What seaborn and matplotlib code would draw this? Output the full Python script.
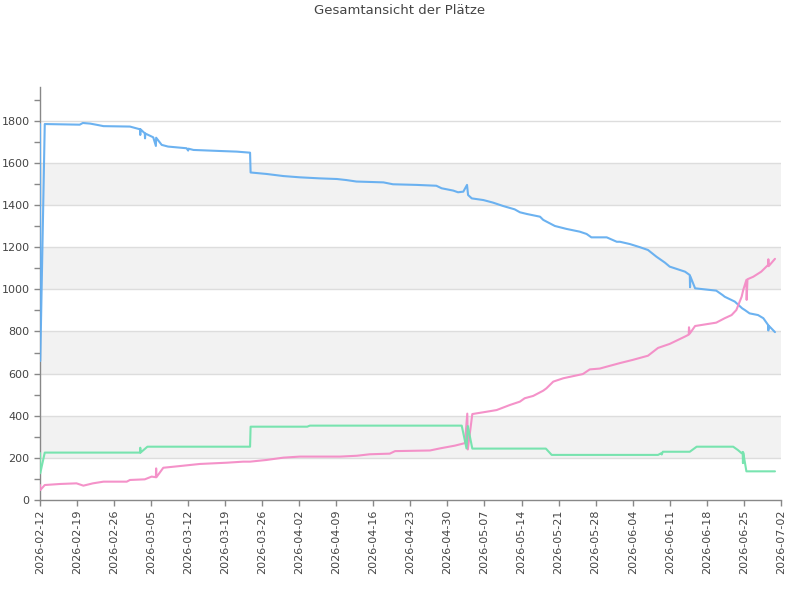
import numpy as np
import pandas as pd
import matplotlib
matplotlib.use("Agg")
import matplotlib.pyplot as plt
from matplotlib.ticker import MultipleLocator
import seaborn as sns

START = "2026-02-12"
END = "2026-07-02"

# Day offsets (days since START) and values for each series
frei_days = [0, 0.05, 0.9, 7.5, 8.1, 9.5, 11, 12, 17, 18.9, 18.95, 19.0, 19.8, 19.85, 19.9, 21.4, 21.9, 21.95,
             23.0, 24.2, 27.7, 28.0, 28.05, 29.0, 34.0, 37.2, 39.7, 39.8, 42.8, 46.0, 49.1, 52.9, 56.1, 57.9,
             59.8, 64.9, 66.7, 71.2, 74.9, 75.9, 78.1, 79.0, 80.0, 80.7, 80.9, 81.6, 83.8, 85.6, 87.5, 89.7,
             90.7, 92.0, 94.5, 95.1, 95.7, 97.3, 99.5, 102.0, 103.3, 104.2, 107.1, 109.0, 109.6, 111.5, 113.4,
             114.9, 116.5, 118.1, 119.0, 121.9, 122.8, 122.85, 122.9, 123.8, 127.8, 129.0, 129.4, 131.3, 132.7,
             133.2, 134.1, 135.7, 136.7, 137.6, 137.65, 137.7, 138.9]
frei_vals = [1785, 660, 1785, 1782, 1790, 1787, 1780, 1775, 1773, 1760, 1733, 1760, 1741, 1717, 1740, 1722, 1681,
             1720, 1686, 1678, 1670, 1659, 1668, 1662, 1657, 1654, 1649, 1555, 1548, 1538, 1532, 1527, 1524, 1519,
             1512, 1508, 1499, 1496, 1492, 1480, 1469, 1461, 1464, 1496, 1448, 1432, 1424, 1412, 1396, 1380,
             1366, 1358, 1345, 1330, 1322, 1301, 1287, 1274, 1263, 1247, 1247, 1226, 1226, 1215, 1200,
             1187, 1155, 1127, 1108, 1084, 1068, 1010, 1062, 1005, 994, 973, 965, 942, 910,
             902, 886, 878, 863, 831, 805, 828, 797]

verkauft_days = [0, 0.05, 0.9, 3.8, 6.9, 8.2, 10.0, 12.0, 16.4, 17.0, 19.8, 21.1, 21.9, 21.95, 22.0, 23.3,
                 26.4, 30.2, 35.3, 38.4, 39.7, 42.8, 46.0, 49.1, 56.7, 59.9, 62.3, 66.1, 67.1, 73.7, 75.6,
                 78.4, 80.3, 80.75, 80.85, 81.7, 84.4, 86.3, 88.8, 90.7, 91.6, 93.2, 95.1, 95.7, 97.0, 98.9,
                 102.6, 103.9, 105.8, 107.1, 109.6, 112.0, 114.9, 116.8, 119.0, 121.9, 122.6, 122.65, 122.8,
                 123.8, 127.8, 129.4, 130.7, 131.6, 132.6, 132.9, 133.5, 133.55, 133.7, 134.8, 136.3, 137.6,
                 137.65, 137.7, 138.9]
verkauft_vals = [71, 47, 71, 76, 79, 68, 79, 87, 87, 95, 98, 111, 108, 150, 108, 153,
                 161, 171, 177, 182, 182, 190, 201, 206, 206, 210, 217, 220, 232, 235, 245,
                 258, 270, 410, 240, 408, 419, 427, 451, 467, 483, 494, 519, 530, 562, 578,
                 598, 620, 624, 633, 650, 665, 685, 722, 741, 776, 785, 820, 790,
                 826, 842, 863, 878, 902, 965, 997, 1045, 950, 1048, 1060, 1084, 1116,
                 1143, 1110, 1145]

reserviert_days = [0, 0.05, 0.9, 18.9, 18.95, 19.0, 20.3, 39.7, 39.8, 50.5, 51.0, 79.7, 80.6, 80.85, 81.7,
                   95.6, 96.7, 116.8, 117.4, 117.5, 117.7, 122.8, 124.1, 131.0, 131.9, 132.6, 132.8, 132.85,
                   132.9, 133.5, 138.9]
reserviert_vals = [223, 127, 225, 225, 248, 225, 253, 253, 348, 348, 353, 353, 245, 351, 244,
                   244, 214, 214, 222, 216, 229, 229, 253, 253, 237, 222, 228, 175,
                   225, 136, 136]

series_names = ["frei", "verkauft", "reserviert"]
series_colors = ["#64aef0", "#f48cc6", "#72e3ac"]

start = pd.Timestamp(START)
frames = []
for name, days, vals in [("frei", frei_days, frei_vals),
                         ("verkauft", verkauft_days, verkauft_vals),
                         ("reserviert", reserviert_days, reserviert_vals)]:
    frames.append(pd.DataFrame({
        "Datum": start + pd.to_timedelta(days, unit="D"),
        "Plätze": vals,
        "Serie": name,
    }))
df = pd.concat(frames, ignore_index=True)

sns.set_style("white")
plt.rcParams["font.family"] = ["DejaVu Sans"]
text_color = "#444444"

fig = plt.figure(figsize=(8, 6), dpi=100)
ax = fig.add_axes([0.05, 0.1667, 0.926, 0.688])

# alternating bands
for lo in [200, 600, 1000, 1400]:
    ax.axhspan(lo, lo + 200, color="#f2f2f2", zorder=0, lw=0)
for y in range(200, 1801, 200):
    ax.axhline(y, color="#dddddd", lw=1, zorder=0.5)

sns.lineplot(data=df, x="Datum", y="Plätze", hue="Serie", hue_order=series_names,
             palette=series_colors, sort=False, estimator=None, legend=False,
             linewidth=1.5, alpha=0.95, ax=ax, zorder=3)

ax.set_xlim(pd.Timestamp(START), pd.Timestamp(END))
ax.set_ylim(0, 1960)
ax.yaxis.set_minor_locator(MultipleLocator(100))
ax.set_yticks([0, 200, 400, 600, 800, 1000, 1200, 1400, 1600, 1800])
ticks = pd.date_range(START, END, freq="7D")
ax.set_xticks(ticks)
ax.set_xticklabels([t.strftime("%Y-%m-%d") for t in ticks], rotation=90)
ax.set_xlabel("")
ax.set_ylabel("")

for s in ["top", "right"]:
    ax.spines[s].set_visible(False)
for s in ["left", "bottom"]:
    ax.spines[s].set_color("#888888")
    ax.spines[s].set_linewidth(1)

ax.tick_params(axis="both", which="both", direction="out", length=4, width=1,
               color="#888888", labelcolor=text_color, labelsize=8, left=True, bottom=True)
ax.tick_params(axis="x", pad=3)

fig.suptitle("Gesamtansicht der Plätze", y=0.982, va="center", fontsize=9.5, color=text_color)

fig.savefig("out.png", dpi=100)
